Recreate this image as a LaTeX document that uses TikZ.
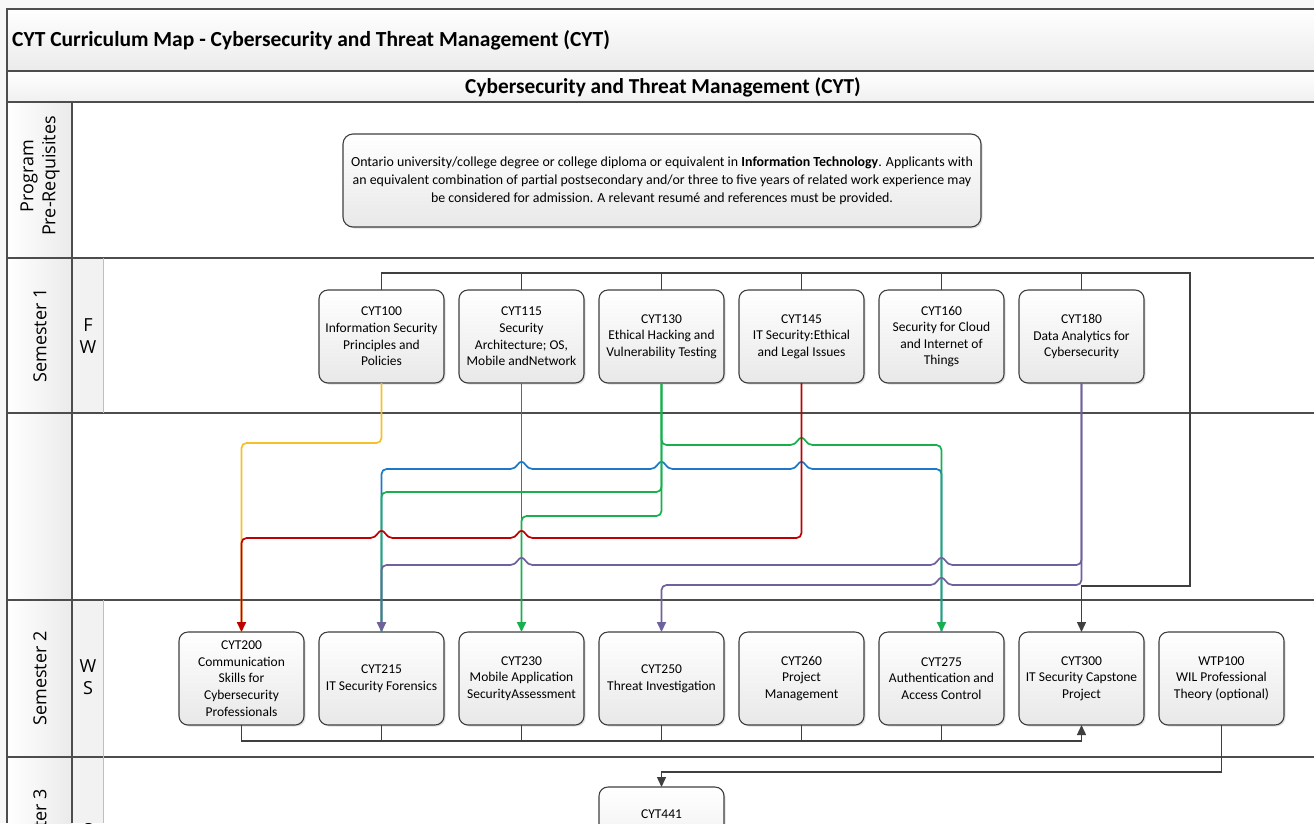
\documentclass[tikz,border=0pt]{standalone}
\usepackage{fontspec}
\setmainfont{Carlito}
\newfontfamily\lanefont{Open Sans}
\usetikzlibrary{arrows.meta,positioning,shadows}

\definecolor{gridline}{HTML}{4D4D4D}
\definecolor{treeline}{HTML}{3F3F3F}
\definecolor{yellowC}{HTML}{F5C02A}
\definecolor{blueC}{HTML}{1E78C8}
\definecolor{greenC}{HTML}{18B04E}
\definecolor{redC}{HTML}{C00000}
\definecolor{purpleC}{HTML}{70609E}

\begin{document}
\begin{tikzpicture}[
  x=1pt, y=-1pt,
  node distance=15pt,
  course/.style={draw=treeline, line width=1.1pt, rounded corners=9pt, top color=white, bottom color=black!9, align=center, font=\fontsize{13.5}{16.6}\selectfont, minimum width=125pt, minimum height=93pt, inner sep=2pt, outer sep=0pt, drop shadow={opacity=0.25, shadow xshift=1.5pt, shadow yshift=-1.5pt}},
  lane/.style={font=\lanefont\fontsize{18}{22}\selectfont, align=center},
  grid/.style={draw=gridline, line width=1.8pt},
  subgrid/.style={draw=black!25, line width=0.8pt},
  tree/.style={draw=treeline, line width=1.4pt},
  arr/.style={-{Triangle[length=10pt,width=9pt]}},
  wire/.style={line width=1.7pt, rounded corners=5pt},
  hopR/.style 2 args={insert path={-- (#1-6,#2) .. controls (#1-2,#2-8) and (#1+2,#2-8) .. (#1+6,#2)}},
  hopL/.style 2 args={insert path={-- (#1+6,#2) .. controls (#1+2,#2-8) and (#1-2,#2-8) .. (#1-6,#2)}}
]
\useasboundingbox (0,0) rectangle (1314,823);
\clip (0,0) rectangle (1314,823);

% table background
\fill[black!3] (0,0) rectangle (1314,823);
\fill[white] (7,9) rectangle (1314,823);
\shade[top color=white, bottom color=black!8] (7,9) rectangle (1314,71);
\shade[top color=white, bottom color=black!6] (7,71) rectangle (1314,102);
\shade[left color=white, right color=black!8] (7,102) rectangle (72,823);
\fill[black!5] (72,258) rectangle (103,413);
\fill[black!5] (72,600) rectangle (103,823);

% grid lines
\draw[grid] (7,823) -- (7,9) -- (1314,9);
\foreach \yy in {71,102,258,413,600,757}
  \draw[grid] (7,\yy) -- (1314,\yy);
\draw[grid] (72,102) -- (72,823);
\draw[subgrid] (103,258) -- (103,413);
\draw[subgrid] (103,600) -- (103,823);

% titles and lane labels
\node[anchor=west, inner sep=0pt, font=\bfseries\fontsize{21.5}{24}\selectfont] (mapTitle) at (12,40) {CYT Curriculum Map - Cybersecurity and Threat Management (CYT)};
\node[font=\bfseries\fontsize{21.3}{24}\selectfont] (progTitle) at (663,87) {Cybersecurity and Threat Management (CYT)};
\node[lane, rotate=90] (lblPre) at (40,176) {Program\\Pre-Requisites};
\node[lane, rotate=90] (lblS1) at (40,335.5) {Semester 1};
\node[lane, rotate=90] (lblS2) at (40,678.5) {Semester 2};
\node[lane, rotate=90] (lblS3) at (40,836) {Semester 3};
\node[lane] (termS1) at (88,336) {F\\W};
\node[lane] (termS2) at (88,677) {W\\S};
\node[lane] (termS3) at (88,830) {S};

% prerequisites
\node[course, minimum width=638pt, rounded corners=10pt, font=\fontsize{13.9}{17.8}\selectfont] (prereq) at (662,180.5) {Ontario university/college degree or college diploma or equivalent in \textbf{Information Technology}. Applicants with\\an equivalent combination of partial postsecondary and/or three to five years of related work experience may\\be considered for admission. A relevant resum\'e and references must be provided.};

% semester 1
\node[course] (c100) at (381.5,336.5) {CYT100\\Information Security\\Principles and\\Policies};
\node[course, right=of c100] (c115) {CYT115\\Security\\Architecture; OS,\\Mobile andNetwork};
\node[course, right=of c115] (c130) {CYT130\\Ethical Hacking and\\Vulnerability Testing};
\node[course, right=of c130] (c145) {CYT145\\IT Security:Ethical\\and Legal Issues};
\node[course, right=of c145] (c160) {CYT160\\Security for Cloud\\and Internet of\\Things};
\node[course, right=of c160] (c180) {CYT180\\Data Analytics for\\Cybersecurity};

% semester 2
\node[course] (c200) at (241.5,678.5) {CYT200\\Communication\\Skills for\\Cybersecurity\\Professionals};
\node[course, right=of c200] (c215) {CYT215\\IT Security Forensics};
\node[course, right=of c215] (c230) {CYT230\\Mobile Application\\SecurityAssessment};
\node[course, right=of c230] (c250) {CYT250\\Threat Investigation};
\node[course, right=of c250] (c260) {CYT260\\Project\\Management};
\node[course, right=of c260] (c275) {CYT275\\Authentication and\\Access Control};
\node[course, right=of c275] (c300) {CYT300\\IT Security Capstone\\Project};
\node[course, right=of c300] (wtp) {WTP100\\WIL Professional\\Theory (optional)};

% semester 3
\node[course, anchor=north, text height=29pt, text depth=60pt, minimum height=0pt] (c441) at (661.5,787) {CYT441};

% dark connectors
\coordinate (topbar) at (1190,273);
\coordinate (capbend) at (1190,586);
\coordinate (botbar) at (0,741);
\coordinate (s3bar) at (0,772);
\draw[tree, arr] (c100.north) |- (topbar) -- (capbend) -| (c300.north);
\foreach \c in {c115,c130,c145,c160,c180}
  \draw[tree] (\c.north) -- (\c.north |- topbar);
\draw[tree, arr] (c200.south) |- (c300.south |- botbar) -- (c300.south);
\foreach \c in {c215,c230,c250,c260,c275}
  \draw[tree] (\c.south) -- (\c.south |- botbar);
\draw[tree, arr] (wtp.south) |- (c441.north |- s3bar) -- (c441.north);

% prerequisite flows
\draw[wire, blueC] (c115.south) -- (521.5,520);
\draw[wire, blueC] (c215.north) -- (381.5,469) [hopR={521.5}{469}] [hopR={661.5}{469}] [hopR={801.5}{469}] -- (941.5,469) -- (c275.north);
\draw[wire, yellowC, arr] (c100.south) -- (381.5,443) -- (241.5,443) -- (c200.north);
\draw[wire, greenC, arr] (c130.south) -- (661.5,445) [hopR={801.5}{445}] -- (941.5,445) -- (c275.north);
\draw[wire, greenC, arr] (c130.south) -- (661.5,492) -- (381.5,492) -- (c215.north);
\draw[wire, greenC, arr] (c130.south) -- (661.5,516) -- (521.5,516) -- (c230.north);
\draw[wire, redC, arr] (c145.south) -- (801.5,538) [hopL={521.5}{538}] [hopL={381.5}{538}] -- (241.5,538) -- (c200.north);
\draw[wire, purpleC, arr] (c180.south) -- (1081.5,565) [hopL={941.5}{565}] [hopL={521.5}{565}] -- (381.5,565) -- (c215.north);
\draw[wire, purpleC, arr] (c180.south) -- (1081.5,585) [hopL={941.5}{585}] -- (661.5,585) -- (c250.north);
\end{tikzpicture}
\end{document}
